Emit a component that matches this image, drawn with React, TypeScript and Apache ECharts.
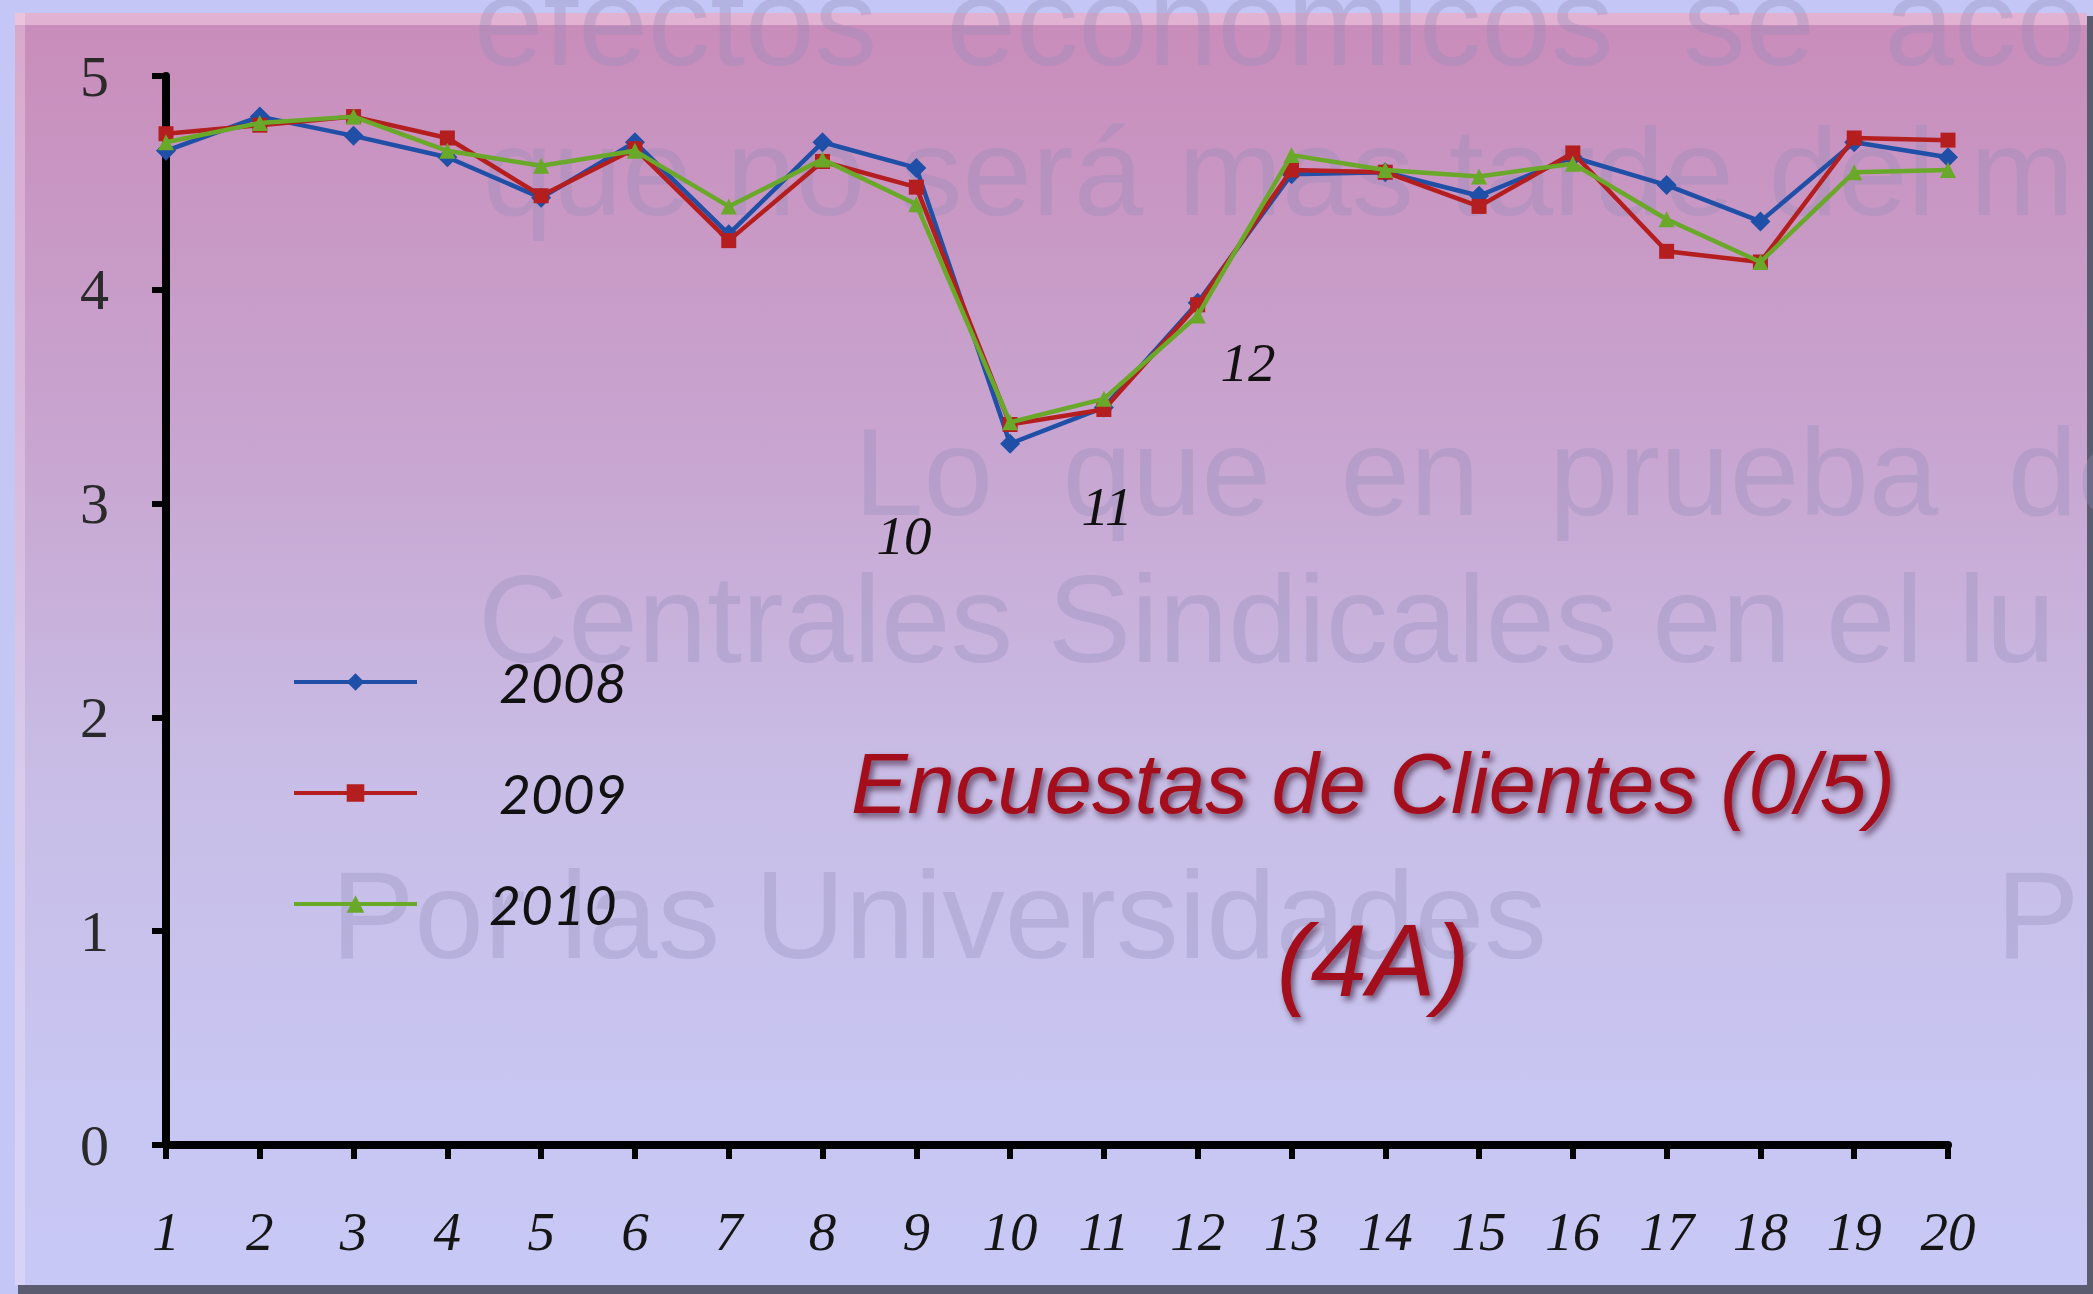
import React, { useEffect, useRef } from "react";
import * as echarts from "echarts";

const categories = ["1","2","3","4","5","6","7","8","9","10","11","12","13","14","15","16","17","18","19","20"];
const seriesNames = ["2008", "2009", "2010"];
const values2008 = [4.65,4.81,4.72,4.62,4.43,4.69,4.26,4.69,4.57,3.28,3.45,3.94,4.54,4.55,4.44,4.62,4.49,4.32,4.69,4.62];
const values2009 = [4.73,4.77,4.81,4.71,4.44,4.66,4.23,4.60,4.48,3.37,3.44,3.93,4.56,4.55,4.39,4.64,4.18,4.13,4.71,4.70];
const values2010 = [4.69,4.78,4.81,4.65,4.58,4.65,4.39,4.61,4.40,3.38,3.49,3.88,4.63,4.56,4.53,4.59,4.33,4.13,4.55,4.56];
const yMin = 0;
const yMax = 5;
const yStep = 1;
const titleText = "Encuestas de Clientes (0/5)";
const subtitleText = "(4A)";
const annotationTexts = ["10", "11", "12"];
const watermarkTexts = [
  "efectos  económicos  se  aco",
  "que no será mas tarde del m",
  "Lo  que  en  prueba  de",
  "Centrales Sindicales en el lu",
  "Por las Universidades",
  "P",
];

export default function App() {
  const ref = useRef<HTMLDivElement>(null);
  useEffect(() => {
    if (!ref.current) return;
    const chart = echarts.init(ref.current, null, { renderer: "svg" });
    const colors = ["#1f4fa6", "#b41e1e", "#6aa82a"];
    const symbols = ["diamond", "rect", "triangle"];
    const symbolSizes = [20, 15, 16];
    const data = [values2008, values2009, values2010];
    const legendTops = [652, 763, 874];
    const legendPad = [77, 77, 67];
    const wmPos = [
      [474, 21], [483, 171], [854, 471], [478, 618], [331, 914], [1996, 914],
    ];
    const annPos = [[904, 535], [1107, 506], [1248, 362]];

    const option: any = {
      animation: false,
      backgroundColor: "#c4c6f6",
      grid: { left: 166, right: 145, top: 76, bottom: 149, containLabel: false },
      title: {
        text: titleText,
        subtext: subtitleText,
        left: 1373,
        top: 741,
        textAlign: "center",
        itemGap: 84,
        padding: 0,
        textStyle: {
          fontFamily: "Liberation Sans",
          fontStyle: "italic",
          fontWeight: "normal",
          fontSize: 85,
          color: "#a3101a",
          textShadowColor: "rgba(40,0,30,0.6)",
          textShadowBlur: 6,
          textShadowOffsetX: 3,
          textShadowOffsetY: 4,
        },
        subtextStyle: {
          fontFamily: "Liberation Sans",
          fontStyle: "italic",
          fontSize: 102,
          color: "#a3101a",
          textShadowColor: "rgba(40,0,30,0.6)",
          textShadowBlur: 6,
          textShadowOffsetX: 3,
          textShadowOffsetY: 4,
        },
      },
      legend: seriesNames.map((name, i) => ({
        data: [name],
        left: 292,
        top: legendTops[i],
        padding: 0,
        itemWidth: 123,
        itemHeight: 22,
        lineStyle: { width: 4 },
        textStyle: {
          fontFamily: "Lato",
          fontStyle: "italic",
          fontSize: 55,
          color: "#111",
          lineHeight: 60,
          padding: [0, 0, 0, legendPad[i]],
        },
      })),
      xAxis: {
        type: "category",
        data: categories,
        boundaryGap: false,
        axisLine: { show: true, lineStyle: { color: "#000", width: 8 } },
        axisTick: { show: true, length: 14, lineStyle: { color: "#000", width: 6 } },
        axisLabel: {
          fontFamily: "Liberation Serif",
          fontStyle: "italic",
          fontSize: 55,
          color: "#151515",
          margin: 59,
        },
        splitLine: { show: false },
      },
      yAxis: {
        type: "value",
        min: yMin,
        max: yMax,
        interval: yStep,
        axisLine: { show: true, lineStyle: { color: "#000", width: 8 } },
        axisTick: { show: true, length: 14, lineStyle: { color: "#000", width: 6 } },
        axisLabel: {
          fontFamily: "Liberation Serif",
          fontSize: 58,
          color: "#2a2a2a",
          margin: 57,
        },
        splitLine: { show: false },
      },
      series: seriesNames.map((name, i) => ({
        name,
        type: "line",
        data: data[i],
        symbol: symbols[i],
        symbolSize: symbolSizes[i],
        lineStyle: { width: 4.5, color: colors[i] },
        itemStyle: { color: colors[i] },
        z: 3 + i,
      })),
      graphic: {
        elements: [
          {
            type: "rect",
            z: -12,
            shape: { x: 18, y: 16, width: 2075, height: 1278 },
            style: { fill: "#5c5c70" },
          },
          {
            type: "rect",
            z: -11,
            shape: { x: 15, y: 13, width: 2072, height: 1272 },
            style: {
              fill: new echarts.graphic.LinearGradient(0, 0, 0, 1, [
                { offset: 0, color: "#c98cba" },
                { offset: 0.35, color: "#c8a6d1" },
                { offset: 0.6, color: "#c8bde6" },
                { offset: 0.85, color: "#c8c6f2" },
                { offset: 1, color: "#c8c8f6" },
              ]),
            },
          },
          {
            type: "rect",
            z: -10,
            shape: { x: 15, y: 13, width: 2072, height: 12 },
            style: { fill: "rgba(255,225,240,0.45)" },
          },
          {
            type: "rect",
            z: -10,
            shape: { x: 15, y: 13, width: 10, height: 1272 },
            style: { fill: "rgba(255,235,250,0.3)" },
          },
          ...watermarkTexts.map((t, i) => ({
            type: "text",
            z: -5,
            x: wmPos[i][0],
            y: wmPos[i][1],
            style: {
              text: t,
              font: '125px "Liberation Sans"',
              fill: "rgba(145,140,185,0.33)",
              textAlign: "left",
              textVerticalAlign: "middle",
            },
          })),
          ...annotationTexts.map((t, i) => ({
            type: "text",
            z: 10,
            x: annPos[i][0],
            y: annPos[i][1],
            style: {
              text: t,
              font: 'italic 55px "Liberation Serif"',
              fill: "#111",
              textAlign: "center",
              textVerticalAlign: "middle",
            },
          })),
        ],
      },
    };
    chart.setOption(option);
    return () => chart.dispose();
  }, []);
  return (
    <div
      ref={ref}
      style={{ position: "fixed", left: 0, top: 0, width: 2093, height: 1294 }}
    />
  );
}
